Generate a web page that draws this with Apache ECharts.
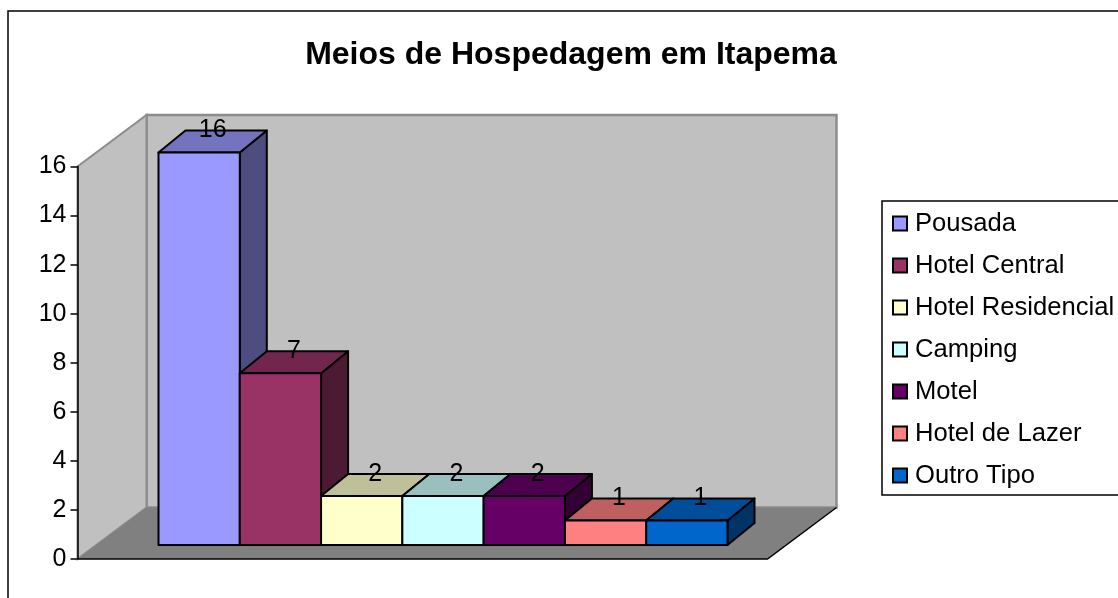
<!DOCTYPE html>
<html><head><meta charset="utf-8">
<style>html,body{margin:0;padding:0;background:#fff}#c{width:1118px;height:598px}</style>
<script src="https://cdn.jsdelivr.net/npm/echarts@6/dist/echarts.min.js"></script>
</head><body><div id="c"></div>
<script>
var categories = ['Pousada','Hotel Central','Hotel Residencial','Camping','Motel','Hotel de Lazer','Outro Tipo'];
var values = [16,7,2,2,2,1,1];
var colors = ['#9999ff','#993366','#ffffcc','#ccffff','#660066','#ff8080','#0066cc'];
var yTicks = {min:0,max:16,interval:2};
var titleText = 'Meios de Hospedagem em Itapema';
var FONT = '"Liberation Sans", Arial, sans-serif';

// projection layout of the pseudo-3D box
var wallDX = 69, wallDY = -51.5, barDX = 27, barDY = -22, barLift = 14, axisGap = 81, floorRight = 40;

function shade(hex, k){
  var n = parseInt(hex.slice(1),16);
  return 'rgb('+[n>>16&255,n>>8&255,n&255].map(function(v){return Math.round(v*k);}).join(',')+')';
}
function renderBox(params, api){
  var cs = params.coordSys;
  var b = cs.y + cs.height, x0 = cs.x - axisGap, x1 = cs.x + cs.width + floorRight, t = cs.y;
  return {type:'group', children:[
    {type:'polygon', shape:{points:[[x0+wallDX,t+wallDY],[x1+wallDX,t+wallDY],[x1+wallDX,b+wallDY],[x0+wallDX,b+wallDY]]}, style:{fill:'#c0c0c0', stroke:'#8c8c8c', lineWidth:2.5}},
    {type:'polygon', shape:{points:[[x0,t],[x0+wallDX,t+wallDY],[x0+wallDX,b+wallDY],[x0,b]]}, style:{fill:'#c0c0c0', stroke:'#8c8c8c', lineWidth:2}},
    {type:'polygon', shape:{points:[[x0,b],[x1,b],[x1+wallDX,b+wallDY],[x0+wallDX,b+wallDY]]}, style:{fill:'#808080'}},
    {type:'polyline', shape:{points:[[x0,b],[x1,b],[x1+wallDX,b+wallDY]]}, style:{fill:null, stroke:'#000', lineWidth:1.5}}
  ]};
}
function makeBar(color){
  return function(params, api){
    var i = api.value(0), v = api.value(1);
    var base = api.coord([i,0]), top = api.coord([i,v]);
    var w = api.size([1,0])[0];
    var l = base[0]-w/2, r = base[0]+w/2, by = base[1]-barLift, ty = top[1]-barLift;
    var line = {stroke:'#000', lineWidth:2, lineJoin:'round'};
    function st(c){return Object.assign({fill:c}, line);}
    return {type:'group', children:[
      {type:'polygon', shape:{points:[[r,ty],[r+barDX,ty+barDY],[r+barDX,by+barDY],[r,by]]}, style:st(shade(color,0.5))},
      {type:'polygon', shape:{points:[[l,ty],[l+barDX,ty+barDY],[r+barDX,ty+barDY],[r,ty]]}, style:st(shade(color,0.75))},
      {type:'rect', shape:{x:l,y:ty,width:r-l,height:by-ty}, style:st(color)},
      {type:'text', style:{text:String(v), x:base[0]+barDX/2, y:ty+barDY, align:'center', verticalAlign:'middle', fontFamily:FONT, fontSize:25, fill:'#000'}}
    ]};
  };
}
var series = [{type:'custom', name:'box', silent:true, z:1, data:[[0,0]], renderItem:renderBox, encode:{x:0,y:1}}];
categories.forEach(function(c,i){
  series.push({type:'custom', name:c, z:3, silent:true, itemStyle:{color:colors[i]}, data:[[i,values[i]]], renderItem:makeBar(colors[i]), encode:{x:0,y:1}});
});
var chart = echarts.init(document.getElementById('c'), null, {renderer:'canvas'});
chart.setOption({
  animation:false,
  backgroundColor:'#fff',
  title:{text:titleText, left:566, top:34, textAlign:'center', textStyle:{fontFamily:FONT, fontWeight:'bold', fontSize:32, color:'#000'}},
  graphic:[{type:'rect', silent:true, z:-1, shape:{x:8,y:11,width:1300,height:800}, style:{fill:'#fff', stroke:'#000', lineWidth:1.5}}],
  grid:{left:158.5, width:569, top:166.5, height:392.5},
  xAxis:{type:'category', data:categories, axisLine:{show:false}, axisTick:{show:false}, axisLabel:{show:false}, splitLine:{show:false}},
  yAxis:{type:'value', min:yTicks.min, max:yTicks.max, interval:yTicks.interval, offset:81, z:5,
    axisLine:{show:true, lineStyle:{color:'#000', width:1.5}},
    axisTick:{show:true, length:7, lineStyle:{color:'#000', width:1.5}},
    axisLabel:{fontFamily:FONT, fontSize:25, color:'#000', margin:11, padding:[2,0,0,0]},
    splitLine:{show:false}},
  legend:{orient:'vertical', left:882, top:201, data:categories, icon:'rect', itemWidth:14, itemHeight:14, itemGap:15,
    padding:[9,40,6,10], borderColor:'#000', borderWidth:1.5, backgroundColor:'#fff', selectedMode:false,
    itemStyle:{borderColor:'#000', borderWidth:2},
    textStyle:{fontFamily:FONT, fontSize:25.6, color:'#000', padding:[0,0,0,3], lineHeight:27}},
  tooltip:{show:false},
  series:series
});
</script></body></html>
